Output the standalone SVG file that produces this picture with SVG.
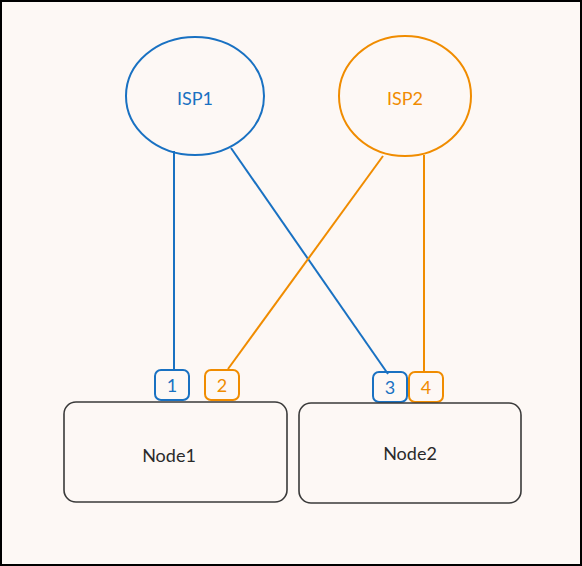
<svg xmlns="http://www.w3.org/2000/svg" width="582" height="566" viewBox="0 0 582 566">
<style>
.bg{fill:#fdf8f5;stroke:#000;stroke-width:2}
.blue{stroke:#1971c2;fill:none;stroke-width:2}
.orange{stroke:#f08c00;fill:none;stroke-width:2}
.node{stroke:#3a3a3a;fill:none;stroke-width:1.6}
text{font-family:Lato,"Open Sans",sans-serif;font-size:18px;text-anchor:middle;dominant-baseline:central}
.tb{fill:#1971c2}.to{fill:#f08c00}.tn{fill:#2a2a2a}
</style>
<rect class="bg" x="1" y="1" width="580" height="564"/>
<g id="connectors">
<line class="blue" x1="174" y1="151" x2="174" y2="371"/>
<line class="blue" x1="231" y1="148" x2="388" y2="374"/>
<line class="orange" x1="383" y1="156" x2="228" y2="369"/>
<line class="orange" x1="424" y1="155" x2="424" y2="372"/>
</g>
<g id="isp1"><ellipse class="blue" cx="195" cy="96" rx="69" ry="59"/><text class="tb" x="195" y="98">ISP1</text></g>
<g id="isp2"><ellipse class="orange" cx="405" cy="96" rx="66" ry="60"/><text class="to" x="405" y="98">ISP2</text></g>
<g id="port1"><rect class="blue" x="155" y="370" width="34" height="30" rx="6"/><text class="tb" x="172" y="385">1</text></g>
<g id="port2"><rect class="orange" x="205" y="370" width="34" height="30" rx="6"/><text class="to" x="222" y="385">2</text></g>
<g id="port3"><rect class="blue" x="373" y="372" width="34" height="30" rx="6"/><text class="tb" x="390" y="387">3</text></g>
<g id="port4"><rect class="orange" x="409" y="372" width="34" height="30" rx="6"/><text class="to" x="426" y="387">4</text></g>
<g id="node1"><rect class="node" x="64" y="402" width="223" height="100" rx="12"/><text class="tn" x="169" y="455">Node1</text></g>
<g id="node2"><rect class="node" x="299" y="403" width="222" height="100" rx="12"/><text class="tn" x="410" y="453">Node2</text></g>
</svg>
